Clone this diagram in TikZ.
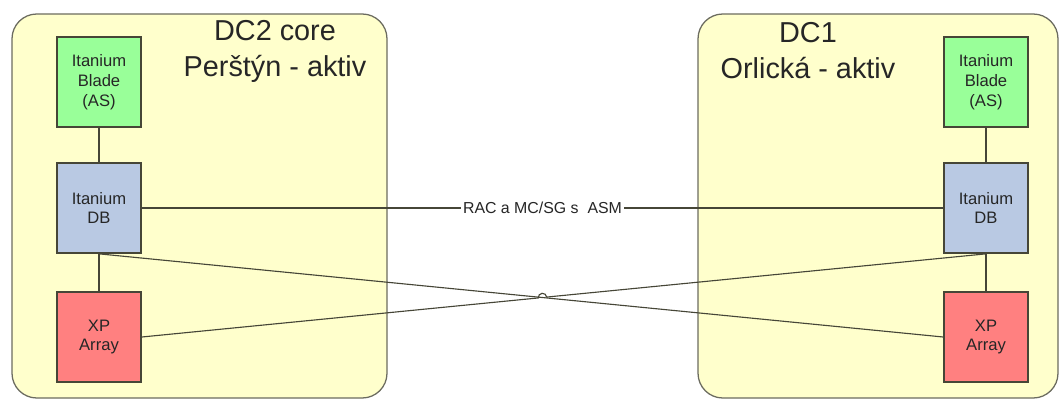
\documentclass[tikz,border=0pt]{standalone}
\usepackage{fontspec}
\setmainfont{Liberation Sans}
\usetikzlibrary{calc,intersections}
\definecolor{sitefill}{RGB}{255,255,204}
\definecolor{bladefill}{RGB}{153,255,153}
\definecolor{dbfill}{RGB}{185,201,227}
\definecolor{arrayfill}{RGB}{255,128,128}
\definecolor{linkgray}{RGB}{70,70,55}
\tikzstyle{site}=[draw=linkgray!80,fill=sitefill,rounded corners=0.62cm,line width=0.9pt]
\tikzstyle{server}=[draw=linkgray,line width=1.2pt,minimum width=2.1cm,minimum height=2.25cm,inner sep=0pt,align=center,text=black!85,font=\fontsize{11.8}{14.2}\selectfont]
\tikzstyle{title}=[align=center,text=black!85,font=\fontsize{20.5}{25.6}\selectfont]
\tikzstyle{link}=[draw=linkgray,line width=0.8pt]

\begin{document}
\begin{tikzpicture}[x=0.025cm,y=-0.025cm]
\useasboundingbox (0,0) rectangle (1059,399);
\draw[site] (12,14) rectangle (387,398);
\draw[site] (698,14) rectangle (1058,398);
\node[title] (t2) at (275,51) {DC2 core\\Perštýn - aktiv};
\node[title] (t1) at (808,51) {DC1\\Orlická - aktiv};
\draw (99, 82) node [server,fill=bladefill] (bladeL) {Itanium\\Blade\\(AS)};
\draw (99, 208) node [server,fill=dbfill] (dbL) {Itanium\\DB};
\draw (99, 337) node [server,fill=arrayfill] (arrL) {XP\\Array};
\draw (986, 82) node [server,fill=bladefill] (bladeR) {Itanium\\Blade\\(AS)};
\draw (986, 208) node [server,fill=dbfill] (dbR) {Itanium\\DB};
\draw (986, 337) node [server,fill=arrayfill] (arrR) {XP\\Array};
\draw[link] (bladeL) -- (dbL);
\draw[link] (dbL) -- (arrL);
\draw[link] (bladeR) -- (dbR);
\draw[link] (dbR) -- (arrR);
\draw[link] (dbL) -- node [fill=white,inner sep=1.5pt,text=black!85,font=\fontsize{11.3}{13}\selectfont] (rac) {RAC a MC/SG s\ \ ASM} (dbR);
\draw[link,name path=xa] (dbL.south) -- (arrR.west);
\path[name path=xb] (arrL.east) -- (dbR.south);
\path[name intersections={of=xa and xb,by=hop}];
\draw[link] (arrL.east) -- ($(hop)!3pt!(arrL.east)$) arc[start angle=186,end angle=6,radius=3pt] -- (dbR.south);
\end{tikzpicture}
\end{document}
